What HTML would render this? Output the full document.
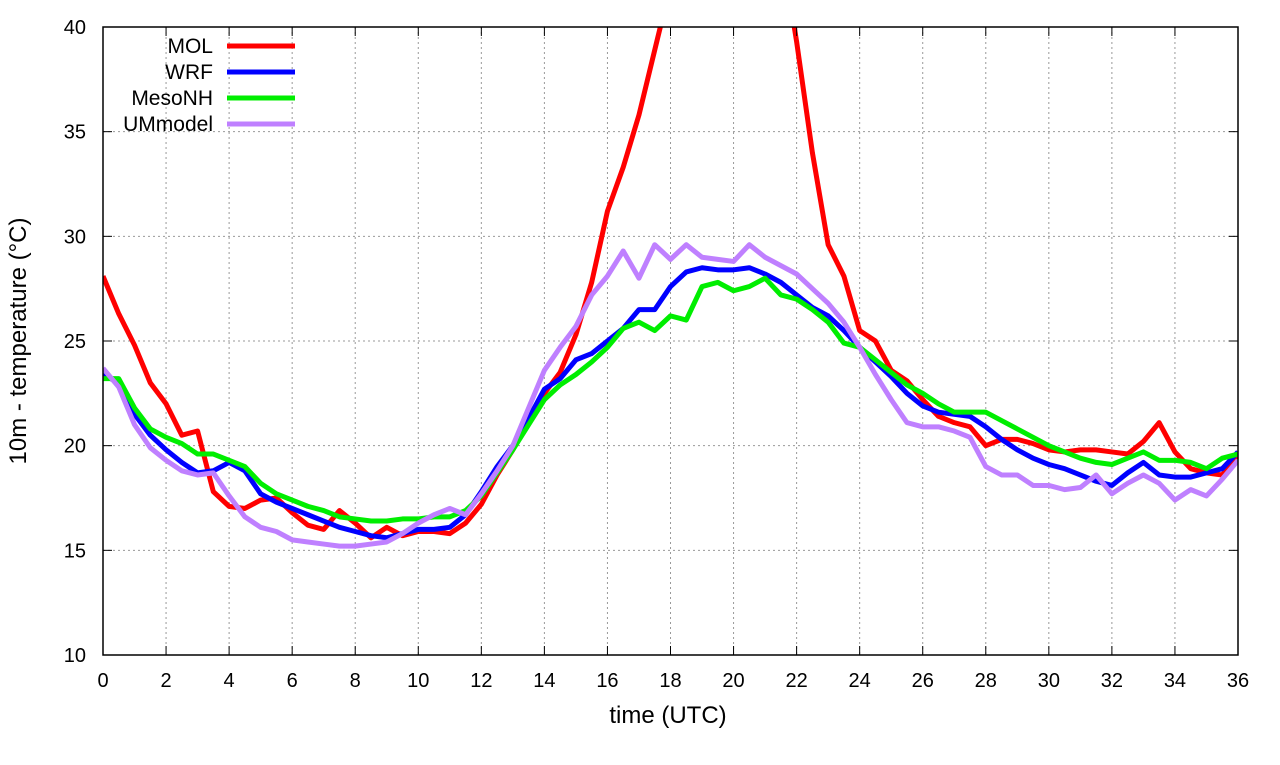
<!DOCTYPE html>
<html><head><meta charset="utf-8"><style>
body{margin:0;background:#fff;}
svg text{font-family:"Liberation Sans",sans-serif;fill:#000;}
</style></head><body>
<svg id="chart" width="1280" height="760" xmlns="http://www.w3.org/2000/svg">
<defs><clipPath id="clip"><rect x="103" y="27" width="1135" height="628"/></clipPath></defs>
<g id="grid"></g>
<g id="series" clip-path="url(#clip)"></g>
<rect x="103" y="27" width="1135" height="628" fill="none" stroke="#000" stroke-width="1.5"/>
<g id="ticks"></g>
<text x="668" y="723" font-size="24" text-anchor="middle">time (UTC)</text>
<text transform="translate(26,341) rotate(-90)" font-size="24" text-anchor="middle">10m - temperature (°C)</text>
<g id="legend"></g>
</svg>
<script>
const xTicks=[0,2,4,6,8,10,12,14,16,18,20,22,24,26,28,30,32,34,36];
const yTicks=[10,15,20,25,30,35,40];
const seriesNames=["MOL","WRF","MesoNH","UMmodel"];
const seriesColors=["#ff0000","#0000ff","#00ee00","#bf80ff"];
const mol=[28.1,26.3,24.8,23.0,22.0,20.5,20.7,17.8,17.1,17.0,17.4,17.5,16.8,16.2,16.0,16.9,16.3,15.6,16.1,15.7,15.9,15.9,15.8,16.3,17.2,18.6,19.8,21.2,22.5,23.5,25.3,27.8,31.2,33.3,35.8,38.9,42,45,48,50,50,49,47,44,39.3,34,29.6,28.1,25.5,25.0,23.6,23.1,22.2,21.4,21.1,20.9,20.0,20.3,20.3,20.1,19.8,19.7,19.8,19.8,19.7,19.6,20.2,21.1,19.7,18.9,18.7,18.6,19.6];
const wrf=[23.4,23.0,21.5,20.5,19.8,19.2,18.7,18.8,19.2,18.8,17.7,17.3,17.0,16.7,16.4,16.1,15.9,15.7,15.6,15.8,16.0,16.0,16.1,16.7,17.8,19.0,20.0,21.3,22.7,23.2,24.1,24.4,25.0,25.6,26.5,26.5,27.6,28.3,28.5,28.4,28.4,28.5,28.2,27.8,27.2,26.6,26.2,25.5,24.7,24.0,23.3,22.5,21.9,21.6,21.5,21.4,20.9,20.3,19.8,19.4,19.1,18.9,18.6,18.3,18.1,18.7,19.2,18.6,18.5,18.5,18.7,18.9,19.7];
const mesonh=[23.2,23.2,21.8,20.8,20.4,20.1,19.6,19.6,19.3,19.0,18.2,17.7,17.4,17.1,16.9,16.6,16.5,16.4,16.4,16.5,16.5,16.6,16.6,16.9,17.6,18.7,19.8,21.0,22.2,22.9,23.4,24.0,24.7,25.6,25.9,25.5,26.2,26.0,27.6,27.8,27.4,27.6,28.0,27.2,27.0,26.5,25.9,24.9,24.7,24.1,23.5,22.9,22.5,22.0,21.6,21.6,21.6,21.2,20.8,20.4,20.0,19.7,19.4,19.2,19.1,19.4,19.7,19.3,19.3,19.2,18.9,19.4,19.6];
const ummodel=[23.7,22.8,21.0,19.9,19.3,18.8,18.6,18.7,17.6,16.6,16.1,15.9,15.5,15.4,15.3,15.2,15.2,15.3,15.4,15.8,16.3,16.7,17.0,16.7,17.7,18.8,20.0,21.8,23.6,24.7,25.7,27.2,28.1,29.3,28.0,29.6,28.9,29.6,29.0,28.9,28.8,29.6,29.0,28.6,28.2,27.5,26.8,25.9,24.7,23.4,22.2,21.1,20.9,20.9,20.7,20.4,19.0,18.6,18.6,18.1,18.1,17.9,18.0,18.6,17.7,18.2,18.6,18.2,17.4,17.9,17.6,18.4,19.3];
const allSeries=[mol,wrf,mesonh,ummodel];
const NS="http://www.w3.org/2000/svg";
const X=t=>103+t*(1135/36);
const Y=v=>655-(v-10)*(628/30);
function mk(tag,attrs,parent){const e=document.createElementNS(NS,tag);for(const k in attrs)e.setAttribute(k,attrs[k]);parent.appendChild(e);return e;}
const grid=document.getElementById('grid'),ticks=document.getElementById('ticks');
xTicks.forEach(t=>{
  if(t>0&&t<36){const g=mk('line',{x1:X(t),x2:X(t),y1:27,y2:655,stroke:'#999','stroke-dasharray':'2,3'},grid);
  
  }
  mk('line',{x1:X(t),x2:X(t),y1:655,y2:646,stroke:'#000'},ticks);
  mk('line',{x1:X(t),x2:X(t),y1:27,y2:36,stroke:'#000'},ticks);
  const l=mk('text',{x:X(t),y:687,'font-size':20,'text-anchor':'middle'},ticks);l.textContent=t;
  
  
});
yTicks.forEach(v=>{
  if(v>10&&v<40){const g=mk('line',{x1:103,x2:1238,y1:Y(v),y2:Y(v),stroke:'#999','stroke-dasharray':'2,3'},grid);
  
  }
  mk('line',{x1:103,x2:112,y1:Y(v),y2:Y(v),stroke:'#000'},ticks);
  mk('line',{x1:1229,x2:1238,y1:Y(v),y2:Y(v),stroke:'#000'},ticks);
  const l=mk('text',{x:86,y:Y(v)+7,'font-size':20,'text-anchor':'end'},ticks);l.textContent=v;
  
  
});
const sg=document.getElementById('series'),lg=document.getElementById('legend');
allSeries.forEach((d,i)=>{
  const p=mk('polyline',{points:d.map((v,j)=>X(j*0.5)+','+Y(v)).join(' '),fill:'none',stroke:seriesColors[i],'stroke-width':5,'stroke-linejoin':'round'},sg);
  
  
});
allSeries.forEach((d,i)=>{
  const y=46+i*26;
  const t=mk('text',{x:213,y:y+7,'font-size':21,'text-anchor':'end'},lg);t.textContent=seriesNames[i];
  
  
  const l=mk('line',{x1:227,x2:295,y1:y,y2:y,stroke:seriesColors[i],'stroke-width':5},lg);
  
  
});
</script>
</body></html>
